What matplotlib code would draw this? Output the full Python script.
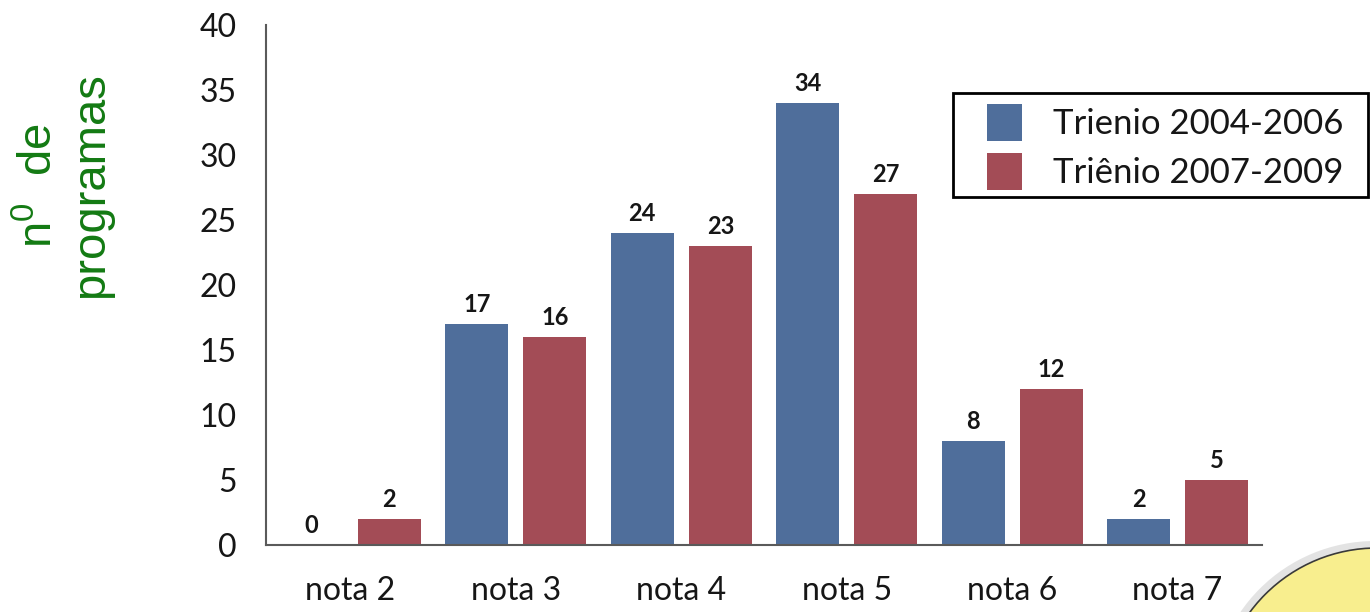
"""
Programas por nota: comparação entre os triênios 2004-2006 e 2007-2009.
"""

import matplotlib as mpl
import matplotlib.pyplot as plt
import numpy as np
from matplotlib.patches import Circle, Patch, Rectangle

# ---------------------------------------------------------------- data -----
categorias = ["nota 2", "nota 3", "nota 4", "nota 5", "nota 6", "nota 7"]
trienio_2004_2006 = [0, 17, 24, 34, 8, 2]
trienio_2007_2009 = [2, 16, 23, 27, 12, 5]
series_labels = ["Trienio 2004-2006", "Triênio 2007-2009"]
y_ticks = [0, 5, 10, 15, 20, 25, 30, 35, 40]

# ---------------------------------------------------------------- style ----
COLOR_BLUE = "#4F6E9B"
COLOR_RED = "#A34C56"
COLOR_AXIS = "#5A5A5A"
COLOR_TEXT = "#161616"
COLOR_GREEN = "#137A13"
COLOR_YELLOW = "#F8EE8E"

mpl.rcParams.update({
    "font.family": ["Lato", "DejaVu Sans"],
    "mathtext.fontset": "custom",
})

W, H = 1370, 612
fig = plt.figure(figsize=(W / 100, H / 100), dpi=100)
fig.patch.set_facecolor("white")

ax = fig.add_axes([266 / W, 67 / H, 996 / W, 520 / H])

x = np.arange(len(categorias))
offset, width = 0.236, 0.38
bars_a = ax.bar(x - offset, trienio_2004_2006, width, color=COLOR_BLUE)
bars_b = ax.bar(x + offset, trienio_2007_2009, width, color=COLOR_RED)

for bars, vals in ((bars_a, trienio_2004_2006), (bars_b, trienio_2007_2009)):
    for b, v in zip(bars, vals):
        ax.annotate(f"{v}", (b.get_x() + b.get_width() / 2, v),
                    xytext=(0, 8.5), textcoords="offset points",
                    ha="center", va="baseline", fontsize=17,
                    fontweight="bold", color=COLOR_TEXT)

ax.set_xlim(-0.51, 5.51)
ax.set_ylim(0, 40)
ax.set_yticks(y_ticks)
ax.set_xticks(x)
ax.set_xticklabels(categorias)
ax.tick_params(axis="both", length=0, labelsize=23, labelcolor=COLOR_TEXT)
ax.tick_params(axis="y", pad=21)
ax.tick_params(axis="x", pad=22)
for s in ("top", "right"):
    ax.spines[s].set_visible(False)
for s in ("left", "bottom"):
    ax.spines[s].set_color(COLOR_AXIS)
    ax.spines[s].set_linewidth(1.5)

# y-axis title, written beside the axis in green
fig.text(65 / W, 1 - 185 / H, "n$^\\mathregular{0}$  de\nprogramas",
         rotation=90, ha="center", va="center", multialignment="center",
         fontsize=34, color=COLOR_GREEN, family="Liberation Sans")

# legend: box drawn separately so the side padding can be wider than the top
fig.patches.append(Rectangle((953, H - 197), 415, 104, transform=None,
                             facecolor="white", edgecolor="black",
                             linewidth=2, zorder=2))
handles = [Patch(facecolor=COLOR_BLUE), Patch(facecolor=COLOR_RED)]
leg = fig.legend(handles, series_labels, loc="upper left",
                 bbox_to_anchor=(987 / W, 1 - 104 / H), fontsize=25,
                 frameon=False, handlelength=1.0, handleheight=1.26,
                 handletextpad=0.9, borderpad=0, labelspacing=0.35,
                 borderaxespad=0)
leg.set_zorder(3)
for t in leg.get_texts():
    t.set_color(COLOR_TEXT)

# decorative yellow disc in the lower right corner
shadow = Circle((1375, H - 704), 163, transform=None, facecolor="#C8C8C8",
                edgecolor="none", alpha=0.5, zorder=0)
disc = Circle((1377, H - 706), 158, transform=None, facecolor=COLOR_YELLOW,
              edgecolor="#3A3A3A", linewidth=1.2, zorder=1)
fig.patches[:0] = [shadow, disc]

fig.savefig("out.png", dpi=100)
